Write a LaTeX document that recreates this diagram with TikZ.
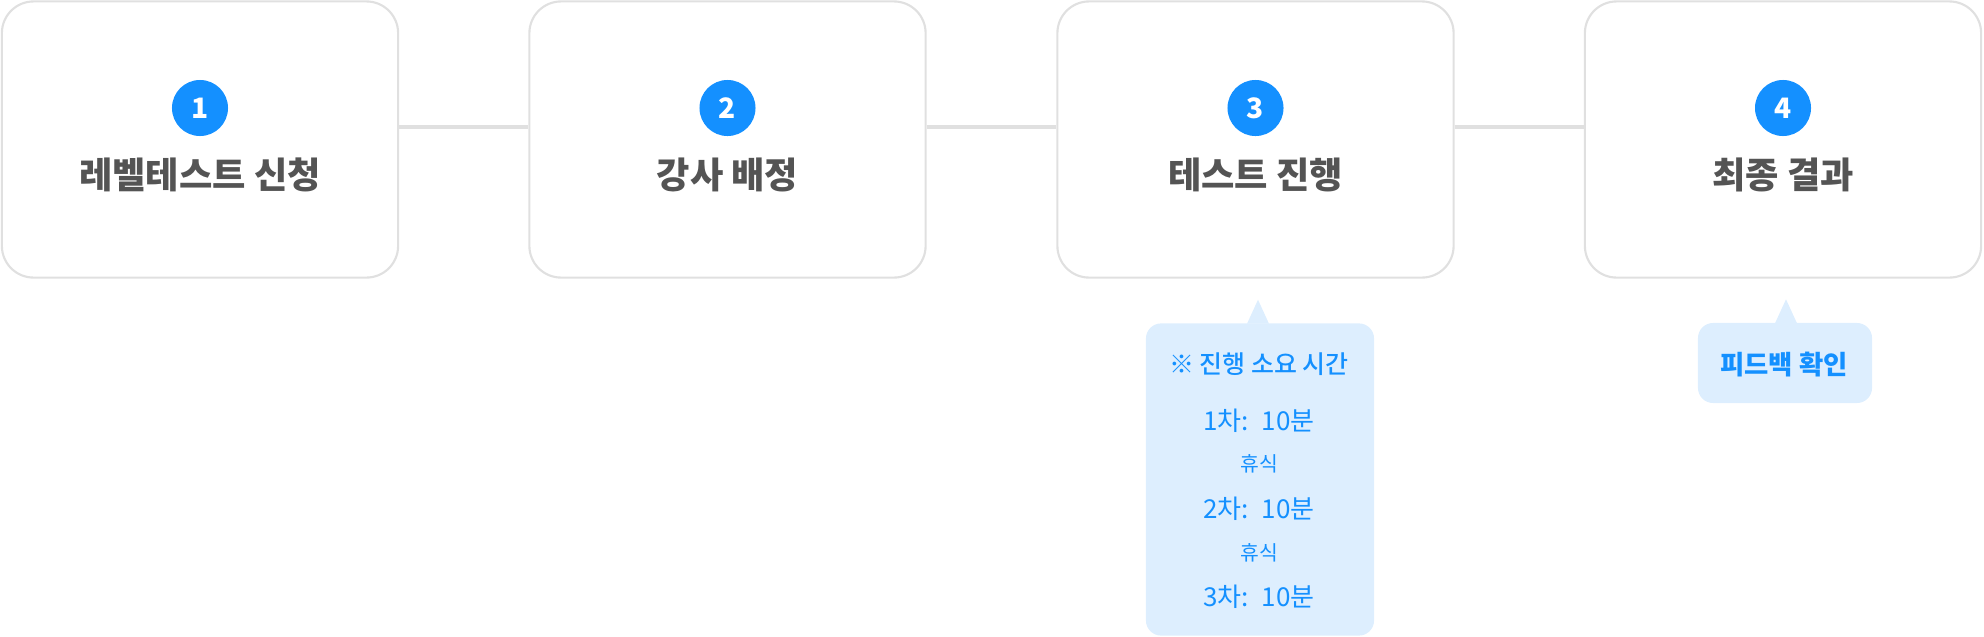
\documentclass[tikz,border=0pt]{standalone}
\usepackage{fontspec}
\setmainfont{Noto Sans CJK KR}
\newfontfamily\krmed{Noto Sans CJK KR Medium}
\usepackage{tikz}
\usetikzlibrary{positioning}
\usepackage{xcolor}
\definecolor{stepblue}{HTML}{1490FF}
\definecolor{notebg}{HTML}{DDEEFE}
\definecolor{linegray}{HTML}{E0E0E0}
\definecolor{titlegray}{HTML}{545454}

\begin{document}
\begin{tikzpicture}[x=0.01cm, y=-0.01cm,
  stepbox/.style={draw=linegray, line width=0.6pt, fill=white, rounded corners=9pt,
    minimum width=3.96cm, minimum height=2.76cm, inner sep=0pt},
  numdot/.style={circle, fill=stepblue, minimum size=0.56cm, inner sep=0pt,
    text=white, font=\bfseries\fontsize{8}{9}\selectfont},
  steptitle/.style={text=titlegray, font=\bfseries\fontsize{10.3}{12}\selectfont, inner sep=0pt},
  link/.style={draw=linegray, line width=1.1pt},
  callout/.style={fill=notebg, rounded corners=4.3pt, inner sep=0pt},
  notehead/.style={text=stepblue, font=\krmed\fontsize{7.1}{8}\selectfont, inner sep=0pt},
  noteline/.style={text=stepblue, font=\fontsize{7.4}{9}\selectfont, inner sep=0pt},
  notebreak/.style={text=stepblue, font=\fontsize{5.8}{7}\selectfont, inner sep=0pt},
  notebold/.style={text=stepblue, font=\bfseries\fontsize{7.5}{9}\selectfont, inner sep=0pt}]
\useasboundingbox (0,0) rectangle (1984,636);
\node[stepbox] (s1) at (200,139.5) {};
\node[stepbox] (s2) at (727.5,139.5) {};
\node[stepbox] (s3) at (1255.5,139.5) {};
\node[stepbox] (s4) at (1783,139.5) {};
\draw[link] ([yshift=3.6pt]s1.east) -- ([yshift=3.6pt]s2.west);
\draw[link] ([yshift=3.6pt]s2.east) -- ([yshift=3.6pt]s3.west);
\draw[link] ([yshift=3.6pt]s3.east) -- ([yshift=3.6pt]s4.west);
\node[numdot] (n1) at (200,108) {1};
\node[numdot] (n2) at (727.5,108) {2};
\node[numdot] (n3) at (1255.5,108) {3};
\node[numdot] (n4) at (1783,108) {4};
\node[steptitle] (t1) at (200,175) {레벨테스트 신청};
\node[steptitle] (t2) at (727.5,175) {강사 배정};
\node[steptitle] (t3) at (1255.5,175) {테스트 진행};
\node[steptitle] (t4) at (1783,175) {최종 결과};
\node[callout, minimum width=2.28cm, minimum height=3.12cm] (note3) at (1260,479.5) {};
\fill[notebg] (note3.north) ++(-13,1) -- ++(11,-24) -- ++(11,24) -- cycle;
\node[notehead] (h3) at (1259,364) {※ 진행 소요 시간};
\node[noteline] (r1) at (1259,421) {1차:\enspace 10분};
\node[notebreak] (b1) at (1259,464) {휴식};
\node[noteline] (r2) at (1259,509) {2차:\enspace 10분};
\node[notebreak] (b2) at (1259,553) {휴식};
\node[noteline] (r3) at (1259,597) {3차:\enspace 10분};
\node[callout, minimum width=1.74cm, minimum height=0.8cm] (note4) at (1785,363) {};
\fill[notebg] (note4.north) ++(-10,1) -- ++(11,-24) -- ++(11,24) -- cycle;
\node[notebold] (f4) at (1784,365) {피드백 확인};
\end{tikzpicture}
\end{document}
